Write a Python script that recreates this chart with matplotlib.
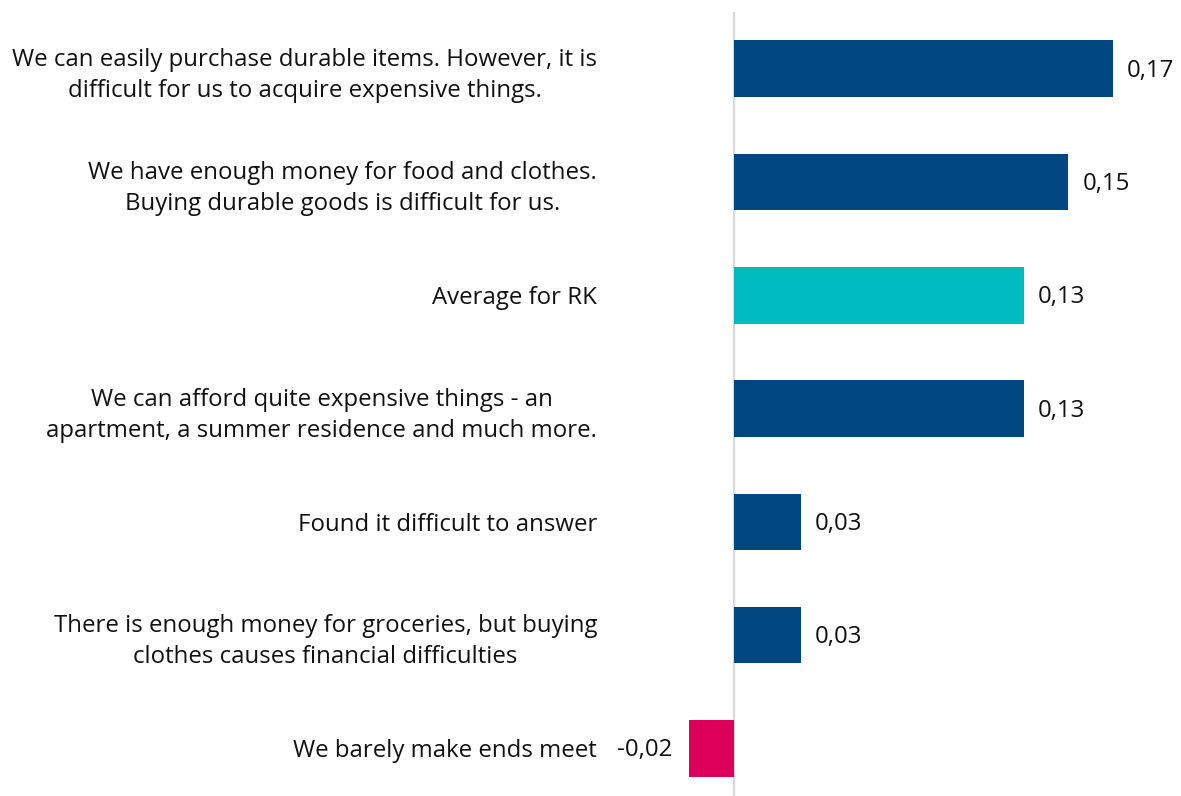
import matplotlib.pyplot as plt

plt.rcParams['font.family'] = ['Open Sans', 'DejaVu Sans']

labels = [
    'We can easily purchase durable items. However, it is\ndifficult for us to acquire expensive things.',
    'We have enough money for food and clothes.\nBuying durable goods is difficult for us.',
    'Average for RK',
    'We can afford quite expensive things - an\napartment, a summer residence and much more.',
    'Found it difficult to answer',
    'There is enough money for groceries, but buying\nclothes causes financial difficulties',
    'We barely make ends meet',
]
values = [0.17, 0.15, 0.13, 0.13, 0.03, 0.03, -0.02]
value_text = ['0,17', '0,15', '0,13', '0,13', '0,03', '0,03', '-0,02']
colors = ['#004680', '#004680', '#00BBC0', '#004680', '#004680', '#004680', '#DC005A']

W, H = 1181, 796
fig = plt.figure(figsize=(W / 100, H / 100), dpi=100)
ax = fig.add_axes([622 / W, 0, (1180 - 622) / W, (796 - 12) / H])

pos = range(len(values))
ax.barh(pos, values, height=0.5, color=colors)
ax.set_xlim(-0.05, 0.2)
ax.set_ylim(6.42, -0.5)

for s in ['top', 'right', 'bottom', 'left']:
    ax.spines[s].set_visible(False)
ax.axvline(0, color='#d9d9d9', lw=1.6, zorder=0)
ax.set_xticks([])
ax.set_yticks(list(pos))
ax.set_yticklabels(labels, fontsize=17.3, color='#111111',
                   multialignment='center', linespacing=1.4)
ax.tick_params(axis='y', length=0, pad=18)

for i, (v, t) in enumerate(zip(values, value_text)):
    if v >= 0:
        ax.annotate(t, (v, i), xytext=(10, -1.5), textcoords='offset points',
                    ha='left', va='center', fontsize=17.3, color='#111111')
    else:
        ax.annotate(t, (v, i), xytext=(-12, -1.5), textcoords='offset points',
                    ha='right', va='center', fontsize=17.3, color='#111111')

fig.savefig('out.png', dpi=100)
